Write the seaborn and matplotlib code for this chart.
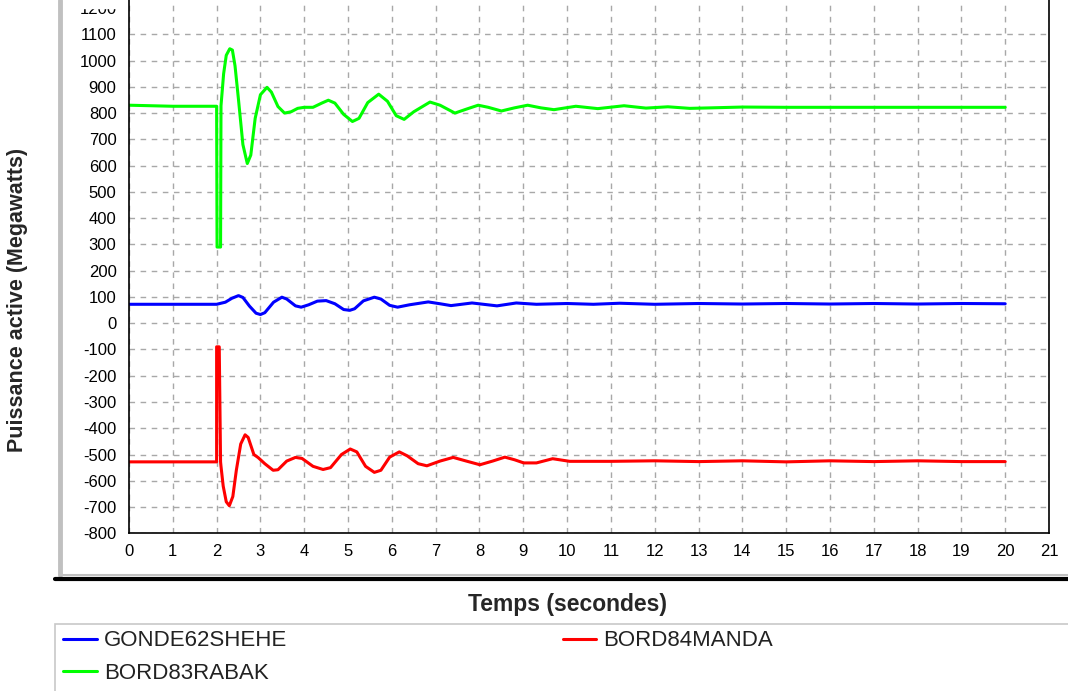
import numpy as np
import pandas as pd
import matplotlib
matplotlib.use("Agg")
import matplotlib.pyplot as plt
from matplotlib.lines import Line2D
from matplotlib.patches import Rectangle
import seaborn as sns

# values
t_gonde = [0, 1, 2.0, 2.2, 2.35, 2.5, 2.6, 2.75, 2.9, 3.0, 3.1, 3.3, 3.49, 3.6, 3.8, 3.93,
           4.1, 4.3, 4.5, 4.7, 4.9, 5.04, 5.15, 5.35, 5.6, 5.75, 5.95, 6.13, 6.4, 6.83,
           7.1, 7.35, 7.83, 8.4, 8.84, 9.3, 10, 10.6, 11.2, 12, 13, 14, 15, 16, 17, 18, 19, 20]
p_gonde = [72, 72, 72, 80, 95, 105, 98, 65, 38, 33, 40, 80, 99, 92, 66, 61,
           70, 84, 86, 74, 52, 49, 55, 85, 99, 92, 68, 61, 70, 81,
           74, 67, 77, 66, 77, 72, 75, 72, 76, 72, 75, 73, 75, 73, 75, 73, 75, 74]

t_rabak = [0, 1, 2.0, 2.01, 2.09, 2.1, 2.16, 2.22, 2.3, 2.36, 2.42, 2.5, 2.6, 2.7, 2.78,
           2.88, 3.0, 3.15, 3.25, 3.4, 3.55, 3.7, 3.85, 4.0, 4.2, 4.4, 4.55, 4.7, 4.9,
           5.1, 5.25, 5.45, 5.7, 5.9, 6.1, 6.28, 6.5, 6.87, 7.1, 7.44, 7.7, 7.97, 8.2,
           8.5, 8.8, 9.1, 9.4, 9.7, 10.2, 10.7, 11.3, 11.8, 12.3, 12.8, 13.3, 14, 15,
           16, 17, 18, 19, 20]
p_rabak = [830, 826, 826, 290, 290, 828, 950, 1020, 1045, 1040, 980, 850, 680, 608, 640,
           780, 870, 898, 880, 825, 800, 805, 818, 822, 822, 838, 849, 838, 795,
           768, 780, 840, 872, 845, 790, 776, 805, 842, 830, 800, 815, 830, 822,
           808, 820, 830, 820, 813, 826, 817, 828, 819, 824, 818, 820, 823, 822,
           822, 822, 822, 822, 822]

t_manda = [0, 1, 2.0, 2.0, 2.06, 2.09, 2.1, 2.15, 2.22, 2.29, 2.37, 2.45, 2.55, 2.65,
           2.72, 2.85, 2.95, 3.1, 3.29, 3.4, 3.6, 3.8, 3.95, 4.2, 4.43, 4.6, 4.85,
           5.05, 5.2, 5.4, 5.6, 5.75, 5.95, 6.17, 6.35, 6.6, 6.8, 7.1, 7.4, 7.7, 8.01,
           8.3, 8.58, 8.8, 9.01, 9.3, 9.67, 10.06, 11, 12, 13, 14, 15, 16, 17, 18, 19, 20]
p_manda = [-528, -528, -528, -90, -90, -528, -545, -620, -680, -695, -660, -560, -460, -425,
           -435, -500, -512, -535, -560, -558, -525, -511, -515, -545, -557, -550, -500,
           -479, -490, -545, -568, -560, -510, -490, -505, -535, -543, -525, -511, -525, -539,
           -525, -510, -520, -532, -532, -516, -526, -526, -524, -527, -524, -528, -524,
           -527, -524, -527, -527]

noms = ["GONDE62SHEHE", "BORD83RABAK", "BORD84MANDA"]
couleurs = ["#0000ff", "#00ff00", "#ff0000"]

df = pd.concat([
    pd.DataFrame({"t": t_gonde, "p": p_gonde, "serie": noms[0]}),
    pd.DataFrame({"t": t_rabak, "p": p_rabak, "serie": noms[1]}),
    pd.DataFrame({"t": t_manda, "p": p_manda, "serie": noms[2]}),
], ignore_index=True)

sns.set_style("white")
plt.rcParams["font.family"] = ["Liberation Sans", "DejaVu Sans"]
plt.rcParams["axes.unicode_minus"] = False

W, H = 1068, 691
fig = plt.figure(figsize=(W / 100, H / 100), dpi=100)
ax = fig.add_axes([129 / W, 1 - 533.3 / H, 920 / W, 533.3 / H])

for nom, coul in zip(noms, couleurs):
    sns.lineplot(data=df[df["serie"] == nom], x="t", y="p", color=coul, lw=2.2,
                 estimator=None, sort=False, ax=ax, legend=False)

ax.set_xlim(0, 21)
ax.set_ylim(-800, 1230.6)
ax.set_xticks(range(0, 22))
ax.set_yticks(range(-800, 1201, 100))
ax.tick_params(direction="in", length=4, width=1, labelsize=12, colors="black")
ax.tick_params(axis="y", pad=9)
ax.tick_params(axis="x", pad=8)
ax.grid(True, color="#a8a8a8", linestyle=(0, (4, 4)), linewidth=1)
ax.get_ygridlines()[-1].set_visible(False)
for s in ["left", "bottom", "right"]:
    ax.spines[s].set_color("black")
    ax.spines[s].set_linewidth(1.2)
ax.spines["top"].set_visible(False)
ax.set_xlabel("")
ax.set_ylabel("")

fig.text(18 / W, 1 - 300 / H, "Puissance active (Megawatts)", rotation=90,
         ha="center", va="center", fontsize=15.5, fontweight="bold")
fig.text(568 / W, 1 - 604 / H, "Temps (secondes)", ha="center", va="center",
         fontsize=16.5, fontweight="bold")

# crop the top of the 1200 label like the reference
fig.patches.append(Rectangle((70 / W, 1 - 7.5 / H), 55 / W, 7.5 / H,
                             transform=fig.transFigure, color="white", zorder=10))

# panel frame
fig.add_artist(Line2D([60 / W, 60 / W], [1, 1 - 575 / H], transform=fig.transFigure,
                      color="#c0c0c0", lw=3.5))
fig.add_artist(Line2D([60 / W, 1], [1 - 575 / H, 1 - 575 / H], transform=fig.transFigure,
                      color="#c0c0c0", lw=1.5))
fig.add_artist(Line2D([55 / W, 1], [1 - 579 / H, 1 - 579 / H], transform=fig.transFigure,
                      color="black", lw=3))

# legend box
fig.patches.append(Rectangle((55 / W, -0.01), 1.0, (691 - 624) / H + 0.01,
                             transform=fig.transFigure, facecolor="white",
                             edgecolor="#c8c8c8", lw=1.2))
handles = [Line2D([], [], color=c, lw=2.2) for c in couleurs]
fig.legend(handles, noms, ncol=2, loc="upper left",
           bbox_to_anchor=(59 / W, 1 - 626 / H), frameon=False, fontsize=16,
           handlelength=1.5, handletextpad=0.33, columnspacing=12.4,
           labelspacing=0.52, borderpad=0.2, borderaxespad=0,
           labelcolor="#222222")

fig.savefig("out.png", dpi=100)
